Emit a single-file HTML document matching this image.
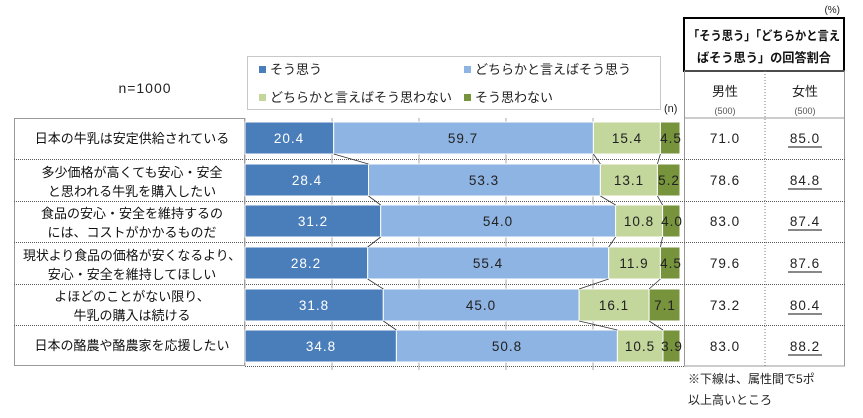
<!DOCTYPE html>
<html><head><meta charset="utf-8"><style>
body{margin:0;background:#fff;}
svg text{font-family:"Liberation Sans","Noto Sans CJK JP",sans-serif;}
</style></head><body>
<svg width="863" height="413" viewBox="0 0 863 413" xmlns="http://www.w3.org/2000/svg">
<rect width="863" height="413" fill="#fff"/>
<text x="145" y="93" font-size="14" text-anchor="middle" fill="#222" letter-spacing="1">n=1000</text>
<!-- legend -->
<rect x="247.5" y="56.5" width="413" height="53" fill="#fff" stroke="#c8c8c8"/>
<rect x="259" y="66" width="7" height="7" fill="#4a7ebb"/><text x="270" y="74" font-size="13" fill="#222">そう思う</text>
<rect x="464" y="66" width="7" height="7" fill="#8eb4e3"/><text x="475" y="74" font-size="13" fill="#222">どちらかと言えばそう思う</text>
<rect x="259" y="94" width="7" height="7" fill="#c3d69b"/><text x="270" y="102" font-size="13" fill="#222">どちらかと言えばそう思わない</text>
<rect x="464" y="94" width="7" height="7" fill="#77933c"/><text x="475" y="102" font-size="13" fill="#222">そう思わない</text>
<text x="664" y="112" font-size="11" fill="#222">(n)</text>
<!-- right header -->
<text x="840" y="13" font-size="10" text-anchor="end" fill="#222">(%)</text>
<rect x="684" y="18" width="160" height="53" fill="#fff" stroke="#000" stroke-width="2"/>
<text x="688" y="40" font-size="12.5" font-weight="bold" fill="#111" textLength="152" lengthAdjust="spacingAndGlyphs">「そう思う」「どちらかと言え</text>
<text x="697" y="62" font-size="12.5" font-weight="bold" fill="#111" textLength="134" lengthAdjust="spacingAndGlyphs">ばそう思う」の回答割合</text>
<rect x="684.5" y="71" width="160" height="295" fill="none" stroke="#999"/>
<line x1="765" y1="71" x2="765" y2="366" stroke="#777" stroke-dasharray="1,2"/>
<text x="725" y="96" font-size="13" text-anchor="middle" fill="#222">男性</text>
<text x="805" y="96" font-size="13" text-anchor="middle" fill="#222">女性</text>
<text x="725" y="114" font-size="9" text-anchor="middle" fill="#555">(500)</text>
<text x="805" y="114" font-size="9" text-anchor="middle" fill="#555">(500)</text>
<line x1="684" y1="118" x2="845" y2="118" stroke="#999"/>
<!-- left table -->
<rect x="14.5" y="118.5" width="230" height="247" fill="none" stroke="#999"/>
<g stroke="#555" stroke-dasharray="1,1">
<line x1="14" y1="159.5" x2="845" y2="159.5"/><line x1="14" y1="201.5" x2="845" y2="201.5"/>
<line x1="14" y1="242.5" x2="845" y2="242.5"/><line x1="14" y1="284.5" x2="845" y2="284.5"/>
<line x1="14" y1="325.5" x2="845" y2="325.5"/><line x1="245" y1="366.5" x2="684" y2="366.5"/>
</g>
<g font-size="13" fill="#111" text-anchor="middle">
<text x="132" y="143">日本の牛乳は安定供給されている</text>
<text x="132" y="177">多少価格が高くても安心・安全</text><text x="132" y="196">と思われる牛乳を購入したい</text>
<text x="132" y="218">食品の安心・安全を維持するの</text><text x="132" y="237">には、コストがかかるものだ</text>
<text x="132" y="260" textLength="218" lengthAdjust="spacingAndGlyphs">現状より食品の価格が安くなるより、</text><text x="132" y="279">安心・安全を維持してほしい</text>
<text x="132" y="301">よほどのことがない限り、</text><text x="132" y="320">牛乳の購入は続ける</text>
<text x="132" y="350">日本の酪農や酪農家を応援したい</text>
</g>
<!-- ticks -->
<g stroke="#aaa">
<line x1="332" y1="118" x2="332" y2="370"/><line x1="419" y1="118" x2="419" y2="370"/>
<line x1="506" y1="118" x2="506" y2="370"/><line x1="593" y1="118" x2="593" y2="370"/>
<line x1="245" y1="118" x2="245" y2="366"/>
</g>
<!-- bars -->
<g stroke="#fff" stroke-width="1">
<rect x="245" y="122" width="88.7" height="32" fill="#4a7ebb"/><rect x="333.7" y="122" width="259.7" height="32" fill="#8eb4e3"/><rect x="593.4" y="122" width="67" height="32" fill="#c3d69b"/><rect x="660.4" y="122" width="19.6" height="32" fill="#77933c"/>
<rect x="245" y="164" width="123.5" height="32" fill="#4a7ebb"/><rect x="368.5" y="164" width="231.9" height="32" fill="#8eb4e3"/><rect x="600.4" y="164" width="57" height="32" fill="#c3d69b"/><rect x="657.4" y="164" width="22.6" height="32" fill="#77933c"/>
<rect x="245" y="205" width="135.7" height="32" fill="#4a7ebb"/><rect x="380.7" y="205" width="234.9" height="32" fill="#8eb4e3"/><rect x="615.6" y="205" width="47" height="32" fill="#c3d69b"/><rect x="662.6" y="205" width="17.4" height="32" fill="#77933c"/>
<rect x="245" y="247" width="122.7" height="32" fill="#4a7ebb"/><rect x="367.7" y="247" width="241" height="32" fill="#8eb4e3"/><rect x="608.7" y="247" width="51.7" height="32" fill="#c3d69b"/><rect x="660.4" y="247" width="19.6" height="32" fill="#77933c"/>
<rect x="245" y="289" width="138.3" height="32" fill="#4a7ebb"/><rect x="383.3" y="289" width="195.8" height="32" fill="#8eb4e3"/><rect x="579.1" y="289" width="70" height="32" fill="#c3d69b"/><rect x="649.1" y="289" width="30.9" height="32" fill="#77933c"/>
<rect x="245" y="330" width="151.4" height="32" fill="#4a7ebb"/><rect x="396.4" y="330" width="221" height="32" fill="#8eb4e3"/><rect x="617.4" y="330" width="45.6" height="32" fill="#c3d69b"/><rect x="663" y="330" width="17" height="32" fill="#77933c"/>
</g>
<!-- connectors -->
<g stroke="#333" stroke-width="0.8">
<line x1="333.7" y1="154" x2="368.5" y2="164"/><line x1="593.4" y1="154" x2="600.4" y2="164"/><line x1="660.4" y1="154" x2="657.4" y2="164"/>
<line x1="368.5" y1="196" x2="380.7" y2="205"/><line x1="600.4" y1="196" x2="615.6" y2="205"/><line x1="657.4" y1="196" x2="662.6" y2="205"/>
<line x1="380.7" y1="237" x2="367.7" y2="247"/><line x1="615.6" y1="237" x2="608.7" y2="247"/><line x1="662.6" y1="237" x2="660.4" y2="247"/>
<line x1="367.7" y1="279" x2="383.3" y2="289"/><line x1="608.7" y1="279" x2="579.1" y2="289"/><line x1="660.4" y1="279" x2="649.1" y2="289"/>
<line x1="383.3" y1="321" x2="396.4" y2="330"/><line x1="579.1" y1="321" x2="617.4" y2="330"/><line x1="649.1" y1="321" x2="663" y2="330"/>
</g>
<!-- values -->
<g font-size="13.5" text-anchor="middle" fill="#222" letter-spacing="1">
<g fill="#fff">
<text x="289" y="143">20.4</text><text x="307" y="185">28.4</text><text x="313" y="226">31.2</text><text x="306" y="268">28.2</text><text x="314" y="310">31.8</text><text x="321" y="351">34.8</text>
</g>
<text x="463" y="143">59.7</text><text x="484" y="185">53.3</text><text x="498" y="226">54.0</text><text x="488" y="268">55.4</text><text x="481" y="310">45.0</text><text x="507" y="351">50.8</text>
<text x="627" y="143">15.4</text><text x="629" y="185">13.1</text><text x="639" y="226">10.8</text><text x="634" y="268">11.9</text><text x="614" y="310">16.1</text><text x="640" y="351">10.5</text>
<text x="671" y="143">4.5</text><text x="669" y="185">5.2</text><text x="672" y="226">4.0</text><text x="671" y="268">4.5</text><text x="665" y="310">7.1</text><text x="672" y="351">3.9</text>
</g>
<g font-size="13.5" text-anchor="middle" fill="#222" letter-spacing="1">
<text x="725" y="143">71.0</text><text x="725" y="185">78.6</text><text x="725" y="226">83.0</text><text x="725" y="268">79.6</text><text x="725" y="310">73.2</text><text x="725" y="351">83.0</text>
<text x="805" y="143">85.0</text><text x="805" y="185">84.8</text><text x="805" y="226">87.4</text><text x="805" y="268">87.6</text><text x="805" y="310">80.4</text><text x="805" y="351">88.2</text>
</g>
<g stroke="#111" stroke-width="1">
<line x1="788" y1="147" x2="822" y2="147"/><line x1="788" y1="189" x2="822" y2="189"/><line x1="788" y1="230" x2="822" y2="230"/>
<line x1="788" y1="272" x2="822" y2="272"/><line x1="788" y1="314" x2="822" y2="314"/><line x1="788" y1="355" x2="822" y2="355"/>
</g>
<text x="688" y="383" font-size="12" fill="#222">※下線は、属性間で5ポ</text>
<text x="688" y="404" font-size="12" fill="#222">以上高いところ</text>
</svg>
</body></html>
